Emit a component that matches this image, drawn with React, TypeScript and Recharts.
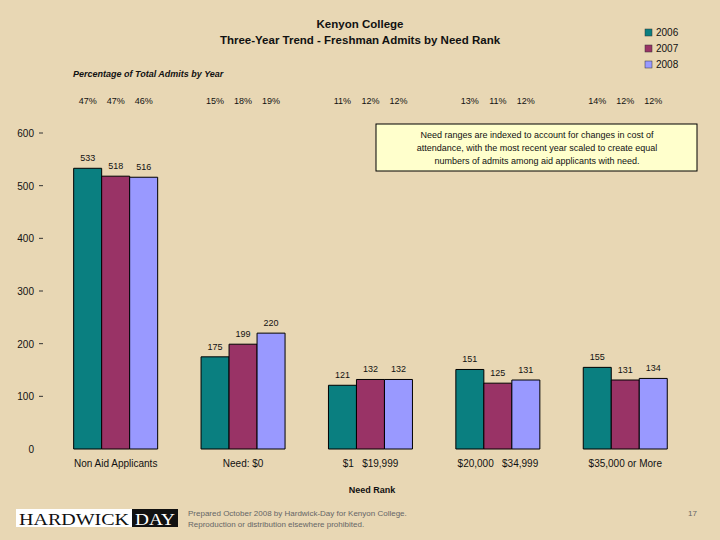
import React from 'react';
import { BarChart, Bar, XAxis, YAxis, LabelList } from 'recharts';

const categories = ['Non Aid Applicants', 'Need: $0', '$1\u00a0\u00a0\u00a0$19,999', '$20,000\u00a0\u00a0\u00a0$34,999', '$35,000 or More'];
const admits2006 = [533, 175, 121, 151, 155];
const admits2007 = [518, 199, 132, 125, 131];
const admits2008 = [516, 220, 132, 131, 134];
const pct2006 = [47, 15, 11, 13, 14];
const pct2007 = [47, 18, 12, 11, 12];
const pct2008 = [46, 19, 12, 12, 12];
const yTicks = [0, 100, 200, 300, 400, 500, 600];
const seriesNames = ['2006', '2007', '2008'];
const colors = ['#0A7F80', '#993366', '#9999FF'];

const data = categories.map((c, i) => ({
  name: c,
  a2006: admits2006[i],
  a2007: admits2007[i],
  a2008: admits2008[i],
  p2006: pct2006[i],
  p2007: pct2007[i],
  p2008: pct2008[i],
}));

const FONT = 'Arial, "Liberation Sans", sans-serif';

const PctLabel = (props: any) => {
  const { x, width, value } = props;
  return (
    <text x={x + width / 2} y={104} textAnchor="middle" fontSize={9} fontFamily={FONT} fill="#111">
      {value}%
    </text>
  );
};

const YTick = (props: any) => {
  const { x, y, payload } = props;
  return (
    <g>
      <text x={x - 10} y={y + 4} textAnchor="end" fontSize={10} fontFamily={FONT} fill="#111">
        {payload.value}
      </text>
      {payload.value !== 0 && <line x1={x - 5} x2={x - 1} y1={y} y2={y} stroke="#333" strokeWidth={1} />}
    </g>
  );
};

const XTick = (props: any) => {
  const { x, y, payload } = props;
  return (
    <text x={x} y={y + 10} textAnchor="middle" fontSize={10} fontFamily={FONT} fill="#111">
      {payload.value}
    </text>
  );
};

export default function App() {
  const keys = ['a2006', 'a2007', 'a2008'];
  const pkeys = ['p2006', 'p2007', 'p2008'];
  return (
    <div style={{ position: 'absolute', left: 0, top: 0, width: 720, height: 540, background: '#E8D7B4', fontFamily: FONT }}>
      <BarChart
        width={720}
        height={540}
        data={data}
        margin={{ top: 133, right: 31, bottom: 61, left: 0 }}
        barCategoryGap="17%"
        barGap={0}
      >
        <YAxis
          width={52}
          domain={[0, 600]}
          ticks={yTicks}
          axisLine={false}
          tickLine={false}
          tick={<YTick />}
          interval={0}
        />
        <XAxis
          dataKey="name"
          height={30}
          axisLine={false}
          tickLine={false}
          tick={<XTick />}
          interval={0}
        />
        {keys.map((k, i) => (
          <Bar key={k} dataKey={k} name={seriesNames[i]} fill={colors[i]} stroke="#000" strokeWidth={1} isAnimationActive={false}>
            <LabelList dataKey={k} position="top" offset={7} fontSize={9} fontFamily={FONT} fill="#111" />
            <LabelList dataKey={pkeys[i]} content={<PctLabel />} />
          </Bar>
        ))}
        {seriesNames.map((n, i) => (
          <g key={n}>
            <rect x={645} y={29 + i * 16} width={7} height={7} fill={colors[i]} stroke="#333" strokeWidth={0.5} />
            <text x={656} y={36 + i * 16} fontSize={10} fontFamily={FONT} fill="#111">{n}</text>
          </g>
        ))}
        <text x={360} y={28} textAnchor="middle" fontSize={11.5} fontWeight="bold" fontFamily={FONT} fill="#111">Kenyon College</text>
        <text x={360} y={44} textAnchor="middle" fontSize={11.5} fontWeight="bold" fontFamily={FONT} fill="#111">Three-Year Trend - Freshman Admits by Need Rank</text>
        <text x={73} y={77} fontSize={9} fontWeight="bold" fontStyle="italic" fontFamily={FONT} fill="#111">Percentage of Total Admits by Year</text>
        <text x={372} y={493} textAnchor="middle" fontSize={9} fontWeight="bold" fontFamily={FONT} fill="#111">Need Rank</text>
        <rect x={376} y={124} width={321} height={47} fill="#FFFFCC" stroke="#000" strokeWidth={1} />
        <text x={537} y={138} textAnchor="middle" fontSize={9} fontFamily={FONT} fill="#111">Need ranges are indexed to account for changes in cost of</text>
        <text x={537} y={151} textAnchor="middle" fontSize={9} fontFamily={FONT} fill="#111">attendance, with the most recent year scaled to create equal</text>
        <text x={537} y={164} textAnchor="middle" fontSize={9} fontFamily={FONT} fill="#111">numbers of admits among aid applicants with need.</text>
        <rect x={16} y={509} width={162} height={18} fill="#fff" />
        <rect x={132} y={509} width={46} height={18} fill="#111" />
        <text x={19} y={525} fontSize={16} textLength={110} lengthAdjust="spacingAndGlyphs" fontFamily='"Liberation Serif", "DejaVu Serif", serif' fill="#111">HARDWICK</text>
        <text x={135} y={525} fontSize={16} textLength={40} lengthAdjust="spacingAndGlyphs" fontFamily='"Liberation Serif", "DejaVu Serif", serif' fill="#fff">DAY</text>
        <text x={188} y={516} fontSize={8} fontFamily={FONT} fill="#666">Prepared October 2008 by Hardwick-Day for Kenyon College.</text>
        <text x={188} y={527} fontSize={8} fontFamily={FONT} fill="#666">Reproduction or distribution elsewhere prohibited.</text>
        <text x={697} y={516} textAnchor="end" fontSize={8} fontFamily={FONT} fill="#666">17</text>
      </BarChart>
    </div>
  );
}
